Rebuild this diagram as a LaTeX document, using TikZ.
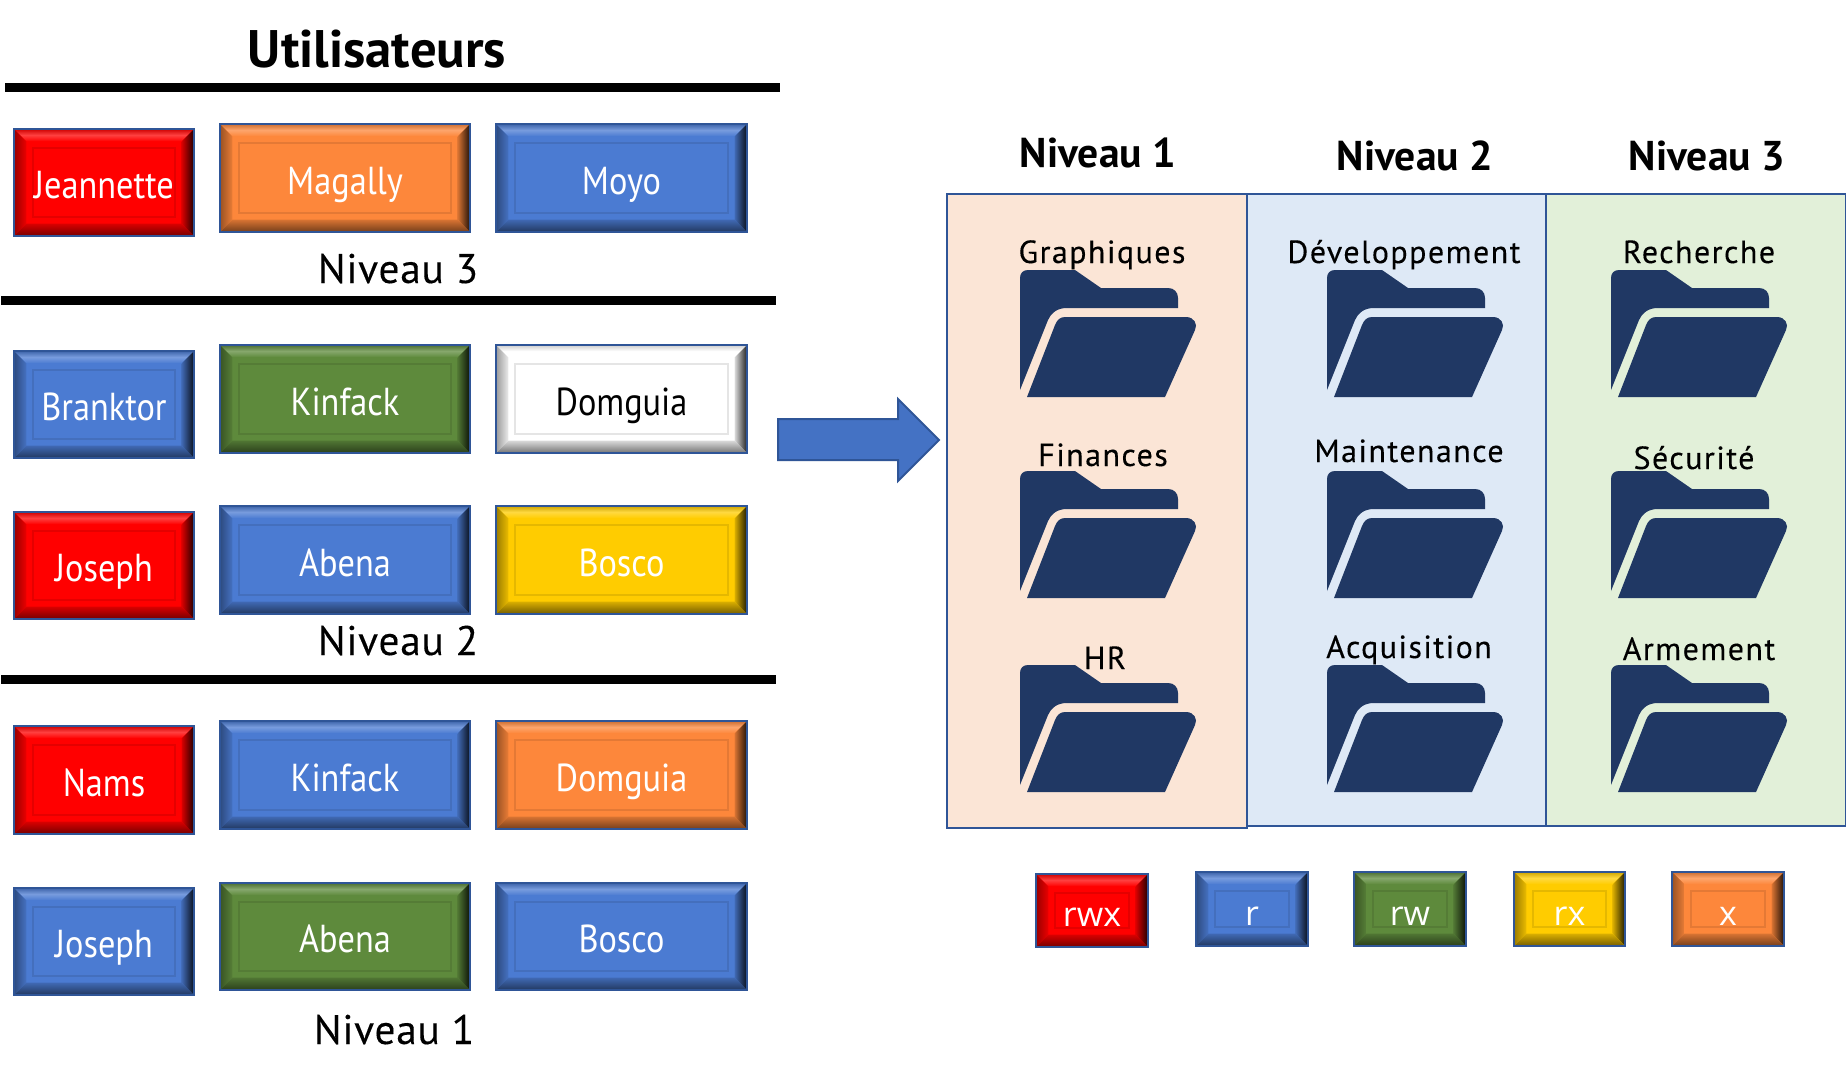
\documentclass[tikz,border=0pt]{standalone}
\usepackage{fontspec}
\setmainfont{PT Sans}
\newfontfamily\legfont{Open Sans}
\newfontfamily\boxfont[FakeStretch=0.88]{PT Sans}
\newfontfamily\lvlfont[LetterSpace=1.8,FakeBold=0.15]{PT Sans}
\newfontfamily\dirfont[LetterSpace=4.5,FakeBold=0.2]{PT Sans}
\usetikzlibrary{calc}
\definecolor{edge}{HTML}{2F5597}
\definecolor{fldr}{HTML}{203864}
\definecolor{cred}{HTML}{FF0000}
\definecolor{corange}{HTML}{FD873B}
\definecolor{cblue}{HTML}{4B7BD2}
\definecolor{cgreen}{HTML}{5E8A3C}
\definecolor{cyellow}{HTML}{FFCC00}
\definecolor{cwhite}{HTML}{FFFFFF}
\definecolor{parrow}{HTML}{4472C4}
\definecolor{pone}{HTML}{FBE5D6}
\definecolor{ptwo}{HTML}{DEE9F6}
\definecolor{pthree}{HTML}{E2F0D9}
\newcommand{\bv}{6.25pt}
\newcommand{\iv}{9.5pt}
\tikzset{
  bevbox/.style={draw=edge, line width=0.8pt, fill=#1, inner sep=0pt, outer sep=0pt, text=white,
    font=\boxfont\fontsize{19.5}{20}\selectfont, text height=19pt, text depth=3pt,
    path picture={
      \coordinate (nw) at (path picture bounding box.north west);
      \coordinate (ne) at (path picture bounding box.north east);
      \coordinate (se) at (path picture bounding box.south east);
      \coordinate (sw) at (path picture bounding box.south west);
      \shade[top color=#1!80!black, bottom color=#1, middle color=#1!75!white]
        (nw) -- (ne) -- ([shift={(-\bv,-\bv)}]ne) -- ([shift={(\bv,-\bv)}]nw) -- cycle;
      \shade[left color=#1!60!black, right color=#1!92!black]
        (nw) -- ([shift={(\bv,-\bv)}]nw) -- ([shift={(\bv,\bv)}]sw) -- (sw) -- cycle;
      \shade[left color=#1!85!black, right color=#1!12!black]
        (ne) -- ([shift={(-\bv,-\bv)}]ne) -- ([shift={(-\bv,\bv)}]se) -- (se) -- cycle;
      \shade[top color=#1!85!black, bottom color=#1!45!black]
        (sw) -- ([shift={(\bv,\bv)}]sw) -- ([shift={(-\bv,\bv)}]se) -- (se) -- cycle;
      \draw[#1!90!black, line width=.8pt]
        ([shift={(\iv,-\iv)}]nw) rectangle ([shift={(-\iv,\iv)}]se);
    }},
  legbox/.style={bevbox=#1, font=\legfont\fontsize{17}{18}\selectfont, text height=17pt, text depth=1pt},
  darktext/.style={text=black},
  panel/.style={draw=edge, line width=1pt},
  rule/.style={line width=4.5pt, black},
  lvl/.style={font=\lvlfont\fontsize{20.7}{21}\selectfont, inner sep=0pt, anchor=base},
  head/.style={font=\bfseries\fontsize{20.8}{21}\selectfont, inner sep=0pt, anchor=base},
  dir/.style={font=\dirfont\fontsize{16}{17}\selectfont, inner sep=0pt, anchor=base},
  pics/folder/.style={code={
    \fill[fldr] (0,8) .. controls (0,3) and (3,0) .. (8,0) -- (55,0) -- (81,18) -- (148,18)
      .. controls (154,18) and (158,22) .. (158,28) -- (158,38) -- (47,38)
      .. controls (37,38) and (31,43) .. (28,50) -- (0,120) -- cycle;
    \fill[fldr] (7,127) -- (35,55) .. controls (37,50) and (40,47) .. (45,47) -- (166,47)
      .. controls (174,47) and (178,54) .. (175,60) -- (145,127) -- cycle;
  }}
}
\newcommand{\ubox}[7]{\node[#6, minimum width={(#4-#2)*0.5pt-0.8pt}, minimum height={(#5-#3)*0.5pt-0.8pt}] (#1) at ({(#2+#4)/2},{(#3+#5)/2}) {#7};}
\begin{document}
\begin{tikzpicture}[x=0.5pt,y=-0.5pt]
\useasboundingbox (0,0) rectangle (1846,1078);
\fill[white] (0,0) rectangle (1846,1078);
\node[head, font=\bfseries\fontsize{26.4}{27}\selectfont] (title) at (377,67) {Utilisateurs};
\coordinate (r1a) at (5,87); \coordinate (r1b) at (780,87);
\coordinate (r2a) at (1,300.5); \coordinate (r2b) at (776,300.5);
\coordinate (r3a) at (1,679.5); \coordinate (r3b) at (776,679.5);
\draw[rule] (r1a) -- (r1b);
\draw[rule] (r2a) -- (r2b);
\draw[rule] (r3a) -- (r3b);
\node[lvl] (n3) at (398,283) {Niveau 3};
\node[lvl] (n2) at (398,655) {Niveau 2};
\node[lvl] (n1) at (394,1044) {Niveau 1};
% row 1
\ubox{a1}{13}{128}{195}{237}{bevbox=cred}{Jeannette}
\ubox{a2}{219}{123}{471}{233}{bevbox=corange}{Magally}
\ubox{a3}{495}{123}{748}{233}{bevbox=cblue}{Moyo}
% row 2
\ubox{b1}{13}{350}{195}{459}{bevbox=cblue}{Branktor}
\ubox{b2}{219}{344}{471}{454}{bevbox=cgreen}{Kinfack}
\ubox{b3}{495}{344}{748}{454}{bevbox=cwhite,darktext}{Domguia}
% row 3
\ubox{c1}{13}{511}{195}{620}{bevbox=cred}{Joseph}
\ubox{c2}{219}{505}{471}{615}{bevbox=cblue}{Abena}
\ubox{c3}{495}{505}{748}{615}{bevbox=cyellow}{Bosco}
% row 4
\ubox{d1}{13}{725}{195}{835}{bevbox=cred}{Nams}
\ubox{d2}{219}{720}{471}{830}{bevbox=cblue}{Kinfack}
\ubox{d3}{495}{720}{748}{830}{bevbox=corange}{Domguia}
% row 5
\ubox{e1}{13}{887}{195}{996}{bevbox=cblue}{Joseph}
\ubox{e2}{219}{882}{471}{991}{bevbox=cgreen}{Abena}
\ubox{e3}{495}{882}{748}{991}{bevbox=cblue}{Bosco}
% arrow
\draw[edge, line width=1pt, fill=parrow] (778,419) -- (898,419) -- (898,399) -- (939,440) -- (898,481) -- (898,460) -- (778,460) -- cycle;
% panels
\draw[panel, fill=pone] (947,194) rectangle (1247,828);
\draw[panel, fill=ptwo] (1247,194) rectangle (1546,826);
\draw[panel, fill=pthree] (1546,194) rectangle (1846,826);
\node[head] (h1) at (1098,167.5) {Niveau 1};
\node[head] (h2) at (1415,170.5) {Niveau 2};
\node[head] (h3) at (1707,170.5) {Niveau 3};
% folders
\foreach \fx in {1020,1327,1611}{
  \foreach \fy in {270,471,665}{
    \pic at (\fx,\fy) {folder};
  }
}
\node[dir] (f1) at (1102,263) {Graphiques};
\node[dir] (f2) at (1103,466) {Finances};
\node[dir] (f3) at (1105,669) {HR};
\node[dir] (g1) at (1404,263) {Développement};
\node[dir] (g2) at (1409,462) {Maintenance};
\node[dir] (g3) at (1409,658) {Acquisition};
\node[dir] (k1) at (1699,263) {Recherche};
\node[dir] (k2) at (1694,469) {Sécurité};
\node[dir] (k3) at (1699,660) {Armement};
% legend
\ubox{l1}{1035}{873}{1149}{948}{legbox=cred}{rwx}
\ubox{l2}{1195}{871}{1309}{947}{legbox=cblue}{r}
\ubox{l3}{1353}{871}{1467}{947}{legbox=cgreen}{rw}
\ubox{l4}{1513}{871}{1626}{947}{legbox=cyellow}{rx}
\ubox{l5}{1671}{871}{1785}{947}{legbox=corange}{x}
\end{tikzpicture}
\end{document}
